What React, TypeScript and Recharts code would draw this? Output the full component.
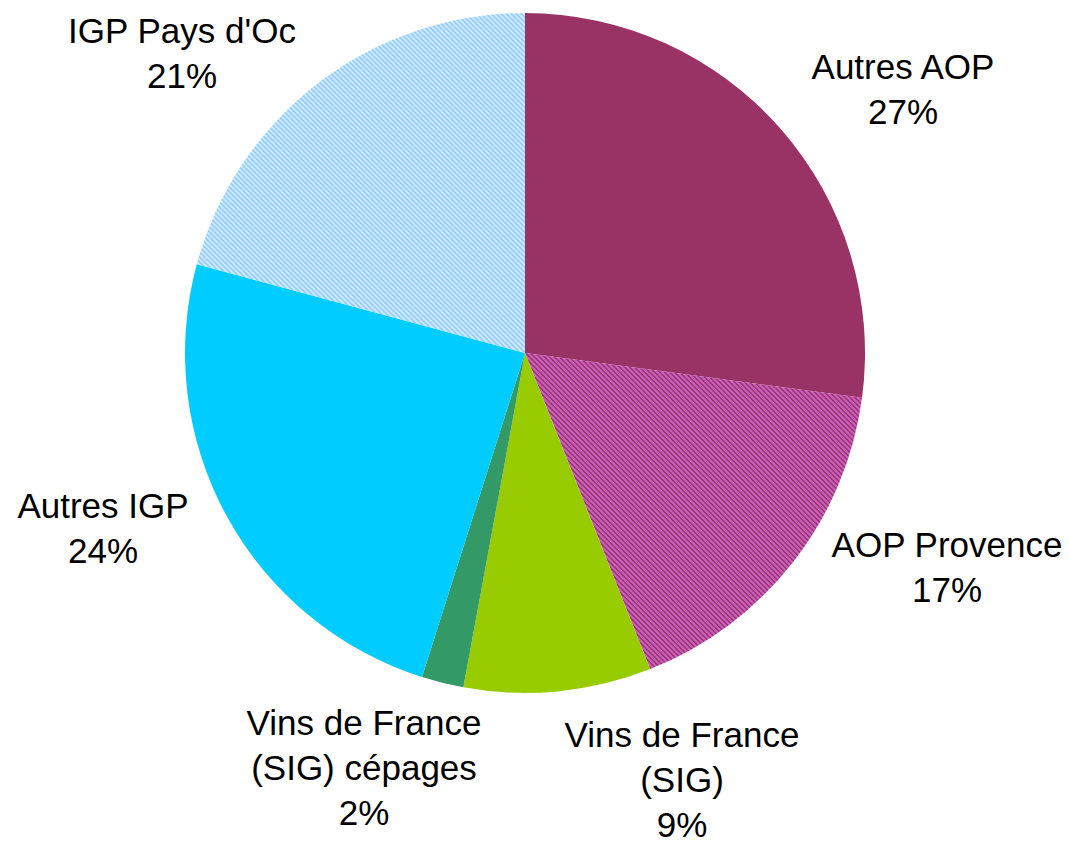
import React from "react";
import { PieChart, Pie, Cell } from "recharts";

const categories = [
  "Autres AOP",
  "AOP Provence",
  "Vins de France\n(SIG)",
  "Vins de France\n(SIG) cépages",
  "Autres IGP",
  "IGP Pays d'Oc",
];
const shares = [27.1, 16.9, 8.9, 2.0, 24.3, 20.8];

const data = categories.map((name, i) => ({ name, value: shares[i] }));

const fills = [
  "#993366",
  "url(#hatchPurple)",
  "#99cc00",
  "#339966",
  "#00ccff",
  "url(#hatchBlue)",
];

// label layout: offsets of first baseline relative to pie centre
const CX = 525;
const CY = 353;
const R = 340;
const LINE_H = 45;
const labelOffsets = [
  { dx: 378, dy: -274 },
  { dx: 422, dy: 204 },
  { dx: 157, dy: 394 },
  { dx: -161, dy: 382 },
  { dx: -422, dy: 165 },
  { dx: -343, dy: -310 },
];

const renderLabel = (props: any) => {
  const { index, percent, cx, cy } = props;
  const off = labelOffsets[index];
  const lines = String(categories[index]).split("\n");
  lines.push(`${Math.round(percent * 100)}%`);
  const x = cx + off.dx;
  const y0 = cy + off.dy;
  return (
    <text
      key={`lbl-${index}`}
      x={x}
      y={y0}
      textAnchor="middle"
      fontFamily="'Liberation Sans', Arial, sans-serif"
      fontSize={35}
      fill="#000"
    >
      {lines.map((l, i) => (
        <tspan key={i} x={x} y={y0 + i * LINE_H}>
          {l}
        </tspan>
      ))}
    </text>
  );
};

export default function App() {
  return (
    <div style={{ position: "absolute", left: 0, top: 0, width: 1070, height: 844, background: "#fff" }}>
      <PieChart width={1070} height={844} margin={{ top: 0, right: 0, bottom: 0, left: 0 }}>
        <defs>
          <pattern id="hatchPurple" patternUnits="userSpaceOnUse" width="5" height="5">
            <rect x="0" y="0" width="5" height="5" fill="#993366" />
            <path d="M-1,-1 L6,6 M-1,4 L1,6 M4,-1 L6,1" stroke="#cc5fc4" strokeWidth="2" />
          </pattern>
          <pattern id="hatchBlue" patternUnits="userSpaceOnUse" width="5" height="5">
            <rect x="0" y="0" width="5" height="5" fill="#99ccff" />
            <path d="M-1,-1 L6,6 M-1,4 L1,6 M4,-1 L6,1" stroke="#cfeeff" strokeWidth="1.6" />
          </pattern>
        </defs>
        <Pie
          data={data}
          dataKey="value"
          nameKey="name"
          cx={CX}
          cy={CY}
          outerRadius={R}
          startAngle={90}
          endAngle={-270}
          stroke="none"
          label={renderLabel}
          labelLine={false}
          isAnimationActive={false}
        >
          {data.map((d, i) => (
            <Cell key={d.name} fill={fills[i]} stroke="none" />
          ))}
        </Pie>
      </PieChart>
    </div>
  );
}
